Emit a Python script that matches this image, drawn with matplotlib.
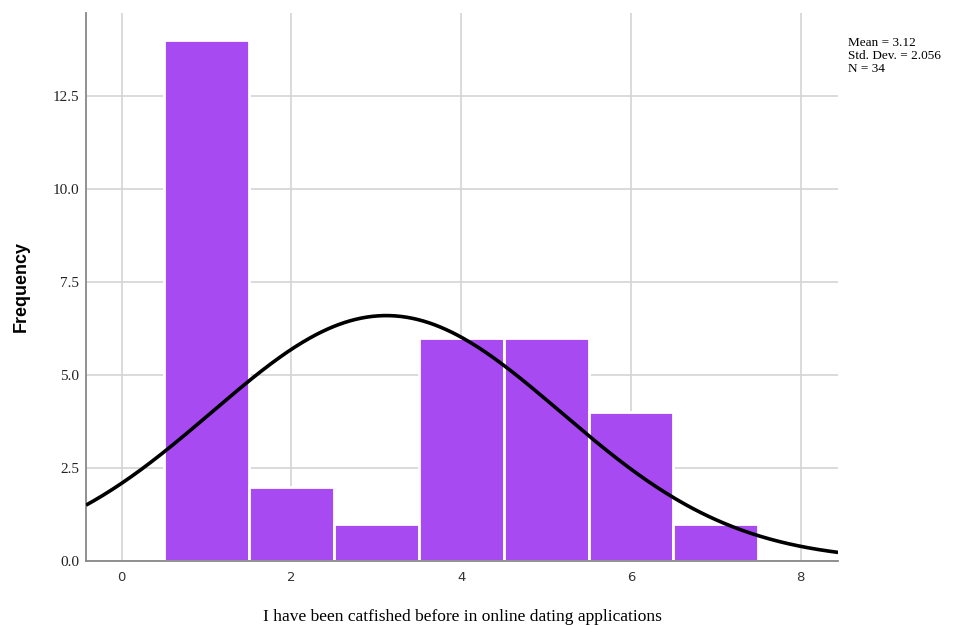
import matplotlib.pyplot as plt
import numpy as np

# histogram data
values = [1, 2, 3, 4, 5, 6, 7]
counts = [14, 2, 1, 6, 6, 4, 1]

x_ticks = [0, 2, 4, 6, 8]
y_ticks = [0.0, 2.5, 5.0, 7.5, 10.0, 12.5]
x_label = "I have been catfished before in online dating applications"
y_label = "Frequency"

bar_color = "#a74af2"

obs = np.repeat(values, counts)
n = len(obs)
mean = obs.mean()
sd = obs.std(ddof=1)

fig = plt.figure(figsize=(9.58, 6.25), dpi=100)
ax = fig.add_axes([0.0898, 0.1024, 0.785, 0.8768])

ax.bar(values, counts, width=1.0, color=bar_color, edgecolor="white",
       linewidth=2.0, zorder=2)

xs = np.linspace(-0.42, 8.44, 400)
ys = n * 1.0 * np.exp(-0.5 * ((xs - mean) / sd) ** 2) / (sd * np.sqrt(2 * np.pi))
ax.plot(xs, ys, color="black", linewidth=2.6, zorder=3, solid_capstyle="butt")

ax.set_xlim(-0.42, 8.44)
ax.set_ylim(0, 14.73)
ax.set_xticks(x_ticks)
ax.set_yticks(y_ticks)
ax.set_xticklabels([str(t) for t in x_ticks], family="DejaVu Sans", fontsize=9.5, color="#333333")
ax.set_yticklabels([f"{t:.1f}" for t in y_ticks], family="Liberation Serif", fontsize=11, color="#222222")
ax.tick_params(axis="y", length=0, pad=5)
ax.tick_params(axis="x", length=0, pad=7)

ax.grid(True, color="#d4d4d4", linewidth=1.2, zorder=0)
ax.set_axisbelow(True)

for side in ["top", "right"]:
    ax.spines[side].set_visible(False)
for side in ["left", "bottom"]:
    ax.spines[side].set_color("#888888")
    ax.spines[side].set_linewidth(1.3)

ax.set_xlabel(x_label, family="Liberation Serif", fontsize=12.5, labelpad=18)
ax.set_ylabel(y_label, family="Liberation Sans", fontsize=13, fontweight="bold", labelpad=16)

stats = f"Mean = {mean:.2f}\nStd. Dev. = {sd:.3f}\nN = {n}"
fig.text(0.885, 0.94, stats, family="Liberation Serif", fontsize=9.5,
         va="top", ha="left", linespacing=1.1)

fig.savefig("out.png", dpi=100)
